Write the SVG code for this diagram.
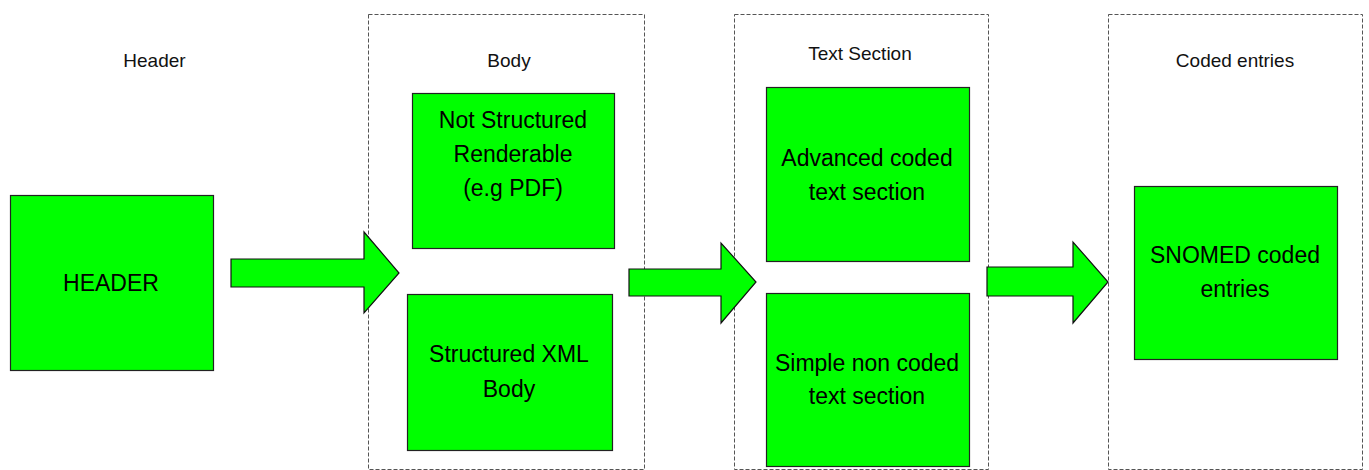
<svg xmlns="http://www.w3.org/2000/svg" width="1369" height="470" viewBox="0 0 1369 470">
  <style>
    .zone { fill: none; stroke: #555; stroke-width: 1; stroke-dasharray: 4 2; }
    .box { fill: #00ff00; stroke: #222; stroke-width: 1.2; }
    .arrow { fill: #00ff00; stroke: #111; stroke-width: 1.2; stroke-linejoin: miter; }
    .label { font-family: "Liberation Sans", Arial, sans-serif; font-size: 19px; fill: #111; text-anchor: middle; }
    .txt { font-family: "Liberation Sans", Arial, sans-serif; font-size: 23px; fill: #000; text-anchor: middle; }
  </style>
  <rect width="1369" height="470" fill="#ffffff"/>

  <!-- column containers -->
  <g id="zones">
    <rect class="zone" x="368.5" y="14.5" width="276" height="455"/>
    <rect class="zone" x="734.5" y="14.5" width="254" height="455"/>
    <rect class="zone" x="1108.5" y="14.5" width="254" height="455"/>
  </g>

  <!-- column titles -->
  <g id="titles">
    <text class="label" x="154.5" y="67">Header</text>
    <text class="label" x="509" y="67">Body</text>
    <text class="label" x="860" y="60">Text Section</text>
    <text class="label" x="1235" y="67">Coded entries</text>
  </g>

  <g id="header">
    <rect class="box" x="10.5" y="195.5" width="203" height="175"/>
    <text class="txt" x="111" y="291">HEADER</text>
  </g>

  <g id="not-structured">
    <rect class="box" x="412.5" y="93.5" width="202" height="155"/>
    <text class="txt" x="513" y="128">Not Structured</text>
    <text class="txt" x="513" y="162">Renderable</text>
    <text class="txt" x="513" y="196">(e.g PDF)</text>
  </g>

  <g id="structured-xml">
    <rect class="box" x="407.5" y="294.5" width="205" height="156"/>
    <text class="txt" x="509" y="362">Structured XML</text>
    <text class="txt" x="509" y="397">Body</text>
  </g>

  <g id="advanced-coded">
    <rect class="box" x="766.5" y="87.5" width="203" height="174"/>
    <text class="txt" x="867" y="166">Advanced coded</text>
    <text class="txt" x="867" y="200">text section</text>
  </g>

  <g id="simple-non-coded">
    <rect class="box" x="766.5" y="293.5" width="203" height="173"/>
    <text class="txt" x="867" y="371">Simple non coded</text>
    <text class="txt" x="867" y="404">text section</text>
  </g>

  <g id="snomed">
    <rect class="box" x="1134.5" y="186.5" width="203" height="173"/>
    <text class="txt" x="1235" y="263">SNOMED coded</text>
    <text class="txt" x="1235" y="297">entries</text>
  </g>

  <!-- block arrows between columns -->
  <g id="connectors">
    <polygon class="arrow" points="231,259 364,259 364,232 399,273 364,313 364,287 231,287"/>
    <polygon class="arrow" points="629,269 721,269 721,243 756,282 721,323 721,296 629,296"/>
    <polygon class="arrow" points="987,267 1073,267 1073,242 1108,282 1073,323 1073,296 987,296"/>
  </g>
</svg>
